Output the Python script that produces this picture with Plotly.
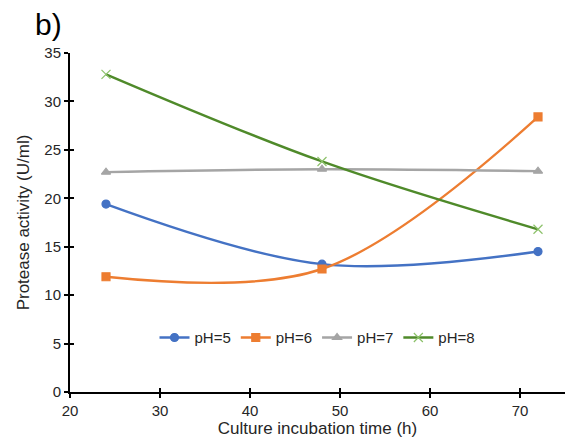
import plotly.graph_objects as go

hours = [24, 48, 72]
ph5 = [19.4, 13.2, 14.5]
ph6 = [11.9, 12.7, 28.4]
ph7 = [22.7, 23.0, 22.8]
ph8 = [32.8, 23.8, 16.8]
names = ["pH=5", "pH=6", "pH=7", "pH=8"]
x_ticks = [20, 30, 40, 50, 60, 70]
y_ticks = [0, 5, 10, 15, 20, 25, 30, 35]

line_colors = ["#4472C4", "#ED7D31", "#A5A5A5", "#4F8A2A"]
marker_colors = ["#4472C4", "#ED7D31", "#A5A5A5", "#8DC26B"]
symbols = ["circle", "square", "triangle-up", "x-thin"]

fig = go.Figure()
for name, vals, lc, mc, sym in zip(names, [ph5, ph6, ph7, ph8], line_colors, marker_colors, symbols):
    fig.add_trace(go.Scatter(
        x=hours, y=vals, name=name, mode="lines+markers",
        line=dict(color=lc, width=2.4, shape="spline", smoothing=1.0),
        marker=dict(symbol=sym, size=8 if sym != "x-thin" else 9, color=mc,
                    line=dict(color=mc, width=1.2)),
    ))

# invisible trace for overlay axes (inside tick half)
fig.add_trace(go.Scatter(x=[20], y=[0], xaxis="x2", yaxis="y2", mode="markers",
                         marker=dict(opacity=0), showlegend=False, hoverinfo="skip"))

font_col = "#262626"
fam = "Liberation Sans, Arial, sans-serif"
axis_common = dict(showgrid=False, zeroline=False, showline=True, linecolor="black",
                   linewidth=2, tickcolor="black", tickwidth=2)
fig.update_layout(
    width=565, height=440,
    margin=dict(l=70, r=0, t=53, b=48),
    paper_bgcolor="white", plot_bgcolor="white",
    font=dict(family=fam, size=15, color=font_col),
    xaxis=dict(range=[20, 75], tickvals=x_ticks, ticks="outside", ticklen=4,
               tickfont=dict(size=15, color=font_col),
               title=dict(text="Culture incubation time (h)", font=dict(size=17, color=font_col), standoff=2),
               **axis_common),
    yaxis=dict(range=[0, 35], tickvals=y_ticks, ticks="outside", ticklen=4,
               tickfont=dict(size=15, color=font_col),
               title=dict(text="Protease activity (U/ml)", font=dict(size=17, color=font_col), standoff=10),
               **axis_common),
    xaxis2=dict(range=[20, 75], tickvals=x_ticks, ticks="inside", ticklen=4, overlaying="x",
                showticklabels=False, showgrid=False, zeroline=False, showline=False,
                tickcolor="black", tickwidth=2),
    yaxis2=dict(range=[0, 35], tickvals=y_ticks, ticks="inside", ticklen=4, overlaying="y",
                showticklabels=False, showgrid=False, zeroline=False, showline=False,
                tickcolor="black", tickwidth=2),
    legend=dict(orientation="h", x=0.5, xanchor="center", y=0.16, yanchor="middle",
                bgcolor="rgba(0,0,0,0)", font=dict(size=15, color=font_col),
                itemwidth=30, tracegroupgap=0),
    showlegend=True,
)
fig.add_annotation(text="b)", xref="paper", yref="paper", x=-0.075, y=1.03,
                   xanchor="left", yanchor="bottom", showarrow=False,
                   font=dict(size=30, color="black", family=fam))

fig.write_html("out.html")
